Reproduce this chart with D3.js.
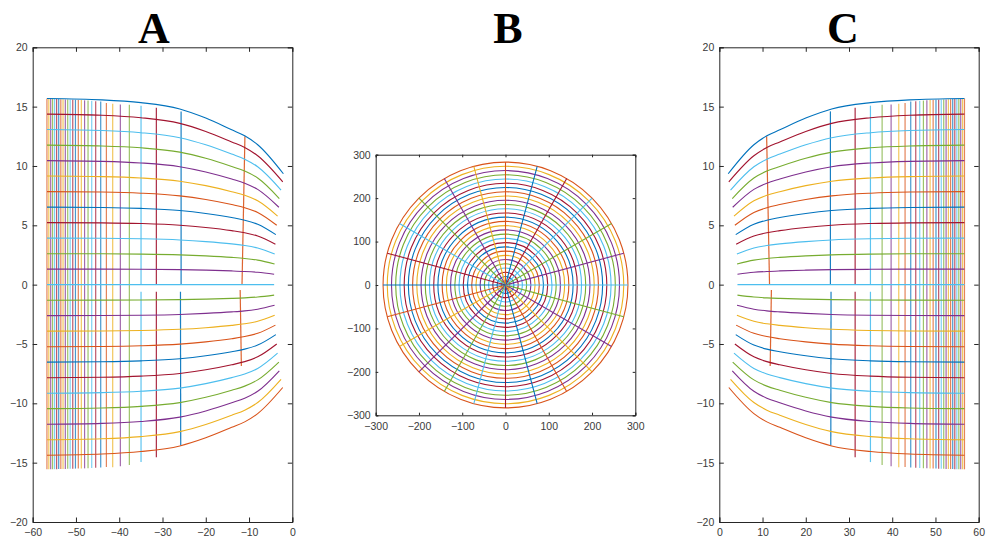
<!DOCTYPE html>
<html><head><meta charset="utf-8">
<script src="https://cdn.jsdelivr.net/npm/d3@7"></script>
<style>
body{margin:0;background:#fff}
svg{display:block}
.tick text, .lbl{font-family:"Liberation Sans",Arial,sans-serif}
</style>
</head><body>
<svg id="chart" width="986" height="543"></svg>
<script>
// MATLAB default colour order
const palette = ["#0072BD","#D95319","#EDB120","#7E2F8E","#77AC30","#4DBEEE","#A2142F"];

// ---------- Panel A / C : mapped grid ----------
// x sample positions of the constant-angle curves (last sample = curve end, see curveEndX)
const curveX = [-56.7, -44, -35, -26, -20, -14, -11, -8];
const curveEndX = [-4.2, -4.2, -4.1, -4.07, -3.9, -3.8, -3.6, -3.4, -3.1, -3.0, -2.6, -2.2, -2.06];
// angles 0..180 (upper half); lower half -15..-165 mirrors it
const curveAngles = [0, 15, 30, 45, 60, 75, 90, 105, 120, 135, 150, 165, 180];
const curveY = [
  [0, 0, 0, 0, 0, 0, 0, 0, 0],
  [1.31, 1.306, 1.293, 1.262, 1.221, 1.160, 1.114, 1.043, 0.882],
  [2.61, 2.600, 2.574, 2.510, 2.423, 2.298, 2.208, 2.067, 1.738],
  [3.92, 3.904, 3.863, 3.762, 3.626, 3.432, 3.298, 3.089, 2.583],
  [5.23, 5.208, 5.150, 5.010, 4.820, 4.554, 4.376, 4.100, 3.410],
  [6.53, 6.499, 6.424, 6.244, 5.997, 5.654, 5.434, 5.093, 4.212],
  [7.84, 7.801, 7.707, 7.483, 7.174, 6.750, 6.488, 6.084, 5.002],
  [9.15, 9.101, 8.987, 8.718, 8.342, 7.834, 7.530, 7.064, 5.774],
  [10.45, 10.390, 10.255, 9.938, 9.492, 8.896, 8.551, 8.026, 6.521],
  [11.76, 11.689, 11.531, 11.164, 10.643, 9.955, 9.570, 8.985, 7.256],
  [13.07, 12.988, 12.805, 12.384, 11.785, 11.001, 10.576, 9.933, 7.973],
  [14.37, 14.274, 14.065, 13.591, 12.909, 12.025, 11.562, 10.864, 8.665],
  [15.68, 15.570, 15.335, 14.802, 14.034, 13.046, 12.544, 11.791, 9.345]
];
const curveColorUpper = [5, 3, 4, 5, 6, 0, 1, 2, 3, 4, 5, 6, 0];      // angle 0..180
const curveColorLower = [null, 4, 3, 2, 1, 0, 6, 5, 4, 3, 2, 1];       // angle -15..-165

// constant-radius lines (left = largest radius)
const vLineX0Up = [-56.71,-56.28,-55.84,-55.40,-54.94,-54.47,-53.99,-53.50,-52.99,-52.46,-51.91,-51.34,-50.74,-50.12,-49.46,-48.76,-48.01,-47.21,-46.36,-45.44,-44.28,-42.97,-41.51,-39.74,-37.66,-34.96,-31.42,-25.70,-11.62];
const vLineXTop = [-56.71,-56.28,-55.84,-55.40,-54.94,-54.47,-53.99,-53.50,-52.99,-52.46,-51.91,-51.34,-50.74,-50.12,-49.46,-48.76,-48.01,-47.21,-46.36,-45.44,-44.28,-42.97,-41.51,-39.74,-37.66,-34.96,-31.42,-25.70,-10.95];
const vLineX0Low = [-56.71,-56.28,-55.84,-55.40,-54.94,-54.47,-53.99,-53.50,-52.99,-52.46,-51.91,-51.34,-50.74,-50.12,-49.46,-48.76,-48.01,-47.21,-46.36,-45.44,-44.28,-42.97,-41.51,-39.74,-37.66,-34.96,-31.42,-25.85,-12.05];
const vLineXBot = [-56.71,-56.28,-55.84,-55.40,-54.94,-54.47,-53.99,-53.50,-52.99,-52.46,-51.91,-51.34,-50.74,-50.12,-49.46,-48.76,-48.01,-47.21,-46.36,-45.44,-44.28,-42.97,-41.51,-39.74,-37.66,-34.96,-31.42,-25.79,-11.77];
const vLineTop = [15.68,15.67,15.67,15.66,15.66,15.65,15.64,15.63,15.62,15.61,15.60,15.59,15.58,15.57,15.56,15.55,15.53,15.51,15.49,15.46,15.43,15.30,15.24,15.18,15.15,15.08,14.90,14.60,12.50];
const vLineBot = [-15.56,-15.56,-15.56,-15.55,-15.55,-15.55,-15.54,-15.54,-15.53,-15.53,-15.52,-15.52,-15.51,-15.50,-15.50,-15.49,-15.48,-15.47,-15.45,-15.42,-15.40,-15.36,-15.38,-15.30,-15.20,-14.95,-14.55,-13.55,-6.85];
const vLineGap = [0,0,0,0,0,0,0,0,0,0,0,0,0,0,0,0,0,0,0,0,0,0,0,0,0,0.6,0.6,0.6,0.45];

// ---------- Panel B : polar grid ----------
const circleRadii = [9.8,19.5,29.3,39,48.8,58.6,68.3,78.1,87.8,97.6,107.4,117.1,126.9,136.6,146.4,156.2,165.9,175.7,185.4,195.2,205,214.7,224.5,234.2,244,253.8,263.5,273.3,283];
const spokeAngles = [-165,-150,-135,-120,-105,-90,-75,-60,-45,-30,-15,0,15,30,45,60,75,90,105,120,135,150,165,180];
const spokeLength = 283;

// tick values
const ticksAx = [-60,-50,-40,-30,-20,-10,0];
const ticksCx = [0,10,20,30,40,50,60];
const ticksACy = [-20,-15,-10,-5,0,5,10,15,20];
const ticksB = [-300,-200,-100,0,100,200,300];
const titles = ["A","B","C"];

const svg = d3.select("#chart");
const axisColor = "#262626";

function drawFrame(g, x, y, xt, yt, tickLen) {
  const [x0, x1] = x.range(), [y0, y1] = y.range();
  const ax = g.append("g").attr("transform", `translate(0,${y0})`)
    .call(d3.axisBottom(x).tickValues(xt).tickSize(-tickLen).tickPadding(7).tickFormat(d3.format("d")));
  const ay = g.append("g").attr("transform", `translate(${x0},0)`)
    .call(d3.axisLeft(y).tickValues(yt).tickSize(-tickLen).tickPadding(5).tickFormat(d3.format("d")));
  const at = g.append("g").attr("transform", `translate(0,${y1})`)
    .call(d3.axisTop(x).tickValues(xt).tickSize(-tickLen).tickFormat(""));
  const ar = g.append("g").attr("transform", `translate(${x1},0)`)
    .call(d3.axisRight(y).tickValues(yt).tickSize(-tickLen).tickFormat(""));
  [ax, ay, at, ar].forEach(a => {
    a.select(".domain").attr("stroke", axisColor).attr("stroke-width", 1);
    a.selectAll(".tick line").attr("stroke", axisColor).attr("stroke-width", 1);
    a.selectAll(".tick text").attr("fill", "#3a3a3a").style("font-size", "10.5px");
  });
}

function drawMapped(xRange, yRange, sign, xTicks) {
  const xDomain = sign < 0 ? [-60, 0] : [0, 60];
  const x = d3.scaleLinear().domain(xDomain).range(xRange);
  const y = d3.scaleLinear().domain([-20, 20]).range(yRange);
  const g = svg.append("g");
  const line = d3.line().x(d => x(sign < 0 ? d[0] : -d[0])).y(d => y(d[1]));
  const lineC = d3.line().curve(d3.curveMonotoneX).x(d => x(sign < 0 ? d[0] : -d[0])).y(d => y(d[1]));

  // constant-radius lines
  vLineX0Up.forEach((v, i) => {
    const col = palette[(i + 1) % 7];
    const op = i >= 25 ? 0.9 : 0.72;
    g.append("path").attr("d", line([[vLineX0Up[i], 0], [vLineXTop[i], vLineTop[i]]]))
      .attr("fill", "none").attr("stroke", col).attr("stroke-width", 1.2).attr("stroke-opacity", op);
    g.append("path").attr("d", line([[vLineX0Low[i], -vLineGap[i]], [vLineXBot[i], vLineBot[i]]]))
      .attr("fill", "none").attr("stroke", col).attr("stroke-width", 1.2).attr("stroke-opacity", op);
  });

  // constant-angle curves
  curveAngles.forEach((a, k) => {
    const pts = curveX.map((cx, j) => [cx, curveY[k][j]]);
    pts.push([curveEndX[k], curveY[k][8]]);
    g.append("path").attr("d", lineC(pts)).attr("fill", "none")
      .attr("stroke", palette[curveColorUpper[k]]).attr("stroke-width", 1.1);
    if (k >= 1 && k <= 11) {
      const ptsL = pts.map(p => [p[0], -p[1]]);
      g.append("path").attr("d", lineC(ptsL)).attr("fill", "none")
        .attr("stroke", palette[curveColorLower[k]]).attr("stroke-width", 1.1);
    }
  });
  drawFrame(svg.append("g"), x, y, xTicks, ticksACy, 4.5);
}

drawMapped([32.7, 292.3], [522, 47.3], -1, ticksAx);
drawMapped([719.3, 978.7], [522, 47.3], 1, ticksCx);

// Panel B
(function(){
  const x = d3.scaleLinear().domain([-300, 300]).range([375.7, 635.3]);
  const y = d3.scaleLinear().domain([-300, 300]).range([415.3, 154.7]);
  const g = svg.append("g");
  circleRadii.forEach((r, i) => {
    g.append("ellipse").attr("cx", x(0)).attr("cy", y(0))
      .attr("rx", x(r) - x(0)).attr("ry", y(0) - y(r))
      .attr("fill", "none").attr("stroke", palette[(29 - i) % 7]).attr("stroke-width", 1.1);
  });
  spokeAngles.forEach(a => {
    const t = a * Math.PI / 180;
    const ci = a >= 0 ? curveColorUpper[a / 15] : curveColorLower[-a / 15];
    g.append("line").attr("x1", x(0)).attr("y1", y(0))
      .attr("x2", x(spokeLength * Math.cos(t))).attr("y2", y(spokeLength * Math.sin(t)))
      .attr("stroke", palette[ci]).attr("stroke-width", 1.1);
  });
  drawFrame(svg.append("g"), x, y, ticksB, ticksB, 2.6);
})();

// titles
const titlePos = [154, 508, 843];
titles.forEach((t, i) => {
  svg.append("text").attr("x", titlePos[i]).attr("y", 43)
    .attr("text-anchor", "middle")
    .style("font-family", "'Liberation Serif','Times New Roman',serif")
    .style("font-weight", "bold").style("font-size", "44px").attr("fill", "#000").text(t);
});
</script>
</body></html>
